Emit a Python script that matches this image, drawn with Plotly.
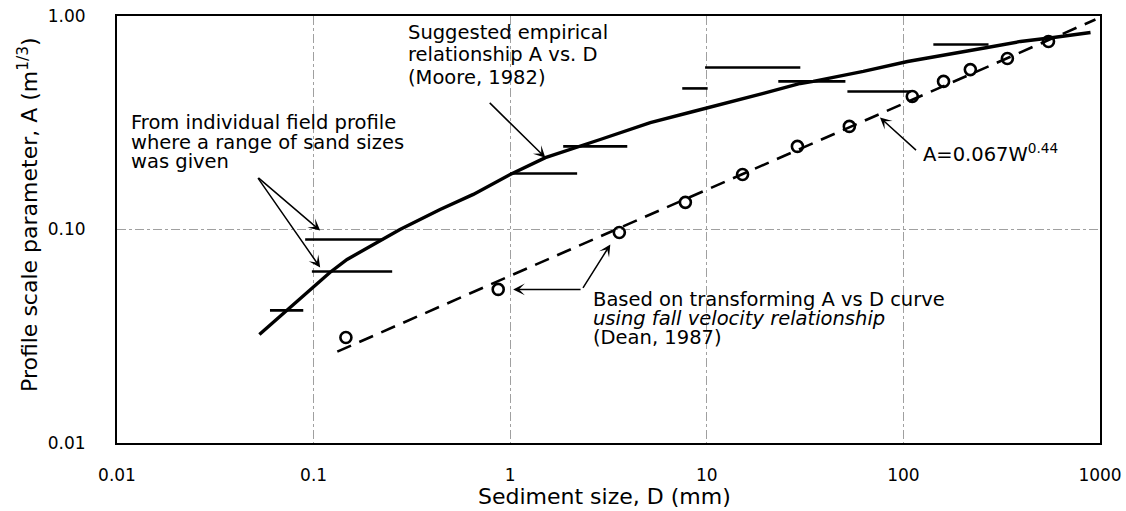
import numpy as np
import plotly.graph_objects as go

# ---- data ----
# Suggested empirical relationship A vs. D (Moore, 1982)
moore_d = [0.053, 0.073, 0.121, 0.148, 0.226, 0.275, 0.44, 0.649, 1.0, 1.51, 2.87,
           5.16, 8.53, 13.6, 19.4, 29.9, 34.8, 62.5, 105, 267, 394, 580, 895]
moore_a = [0.0322, 0.0418, 0.0629, 0.0724, 0.0898, 0.100, 0.124, 0.146, 0.181, 0.217, 0.264,
           0.317, 0.357, 0.398, 0.434, 0.483, 0.494, 0.55, 0.612, 0.712, 0.760, 0.793, 0.837]

# Points from transforming A vs D via fall velocity (Dean, 1987)
dean_d = [0.146, 0.869, 3.59, 7.78, 15.2, 28.9, 53.1, 111, 160, 219, 338, 547]
dean_a = [0.0312, 0.0524, 0.0968, 0.134, 0.181, 0.245, 0.304, 0.420, 0.494, 0.561, 0.632, 0.760]

# A = 0.067 W^0.44 (end points of the dashed line)
fit_d = [0.132, 948]
fit_a = [0.0268, 0.963]

# Individual field profiles with a range of sand sizes
range_dmin = [0.060, 0.098, 0.0906, 1.0, 1.86, 7.5, 9.8, 23.1, 51.9, 142]
range_dmax = [0.0886, 0.251, 0.226, 2.19, 3.94, 10.1, 29.9, 50.7, 109, 271]
range_a = [0.0418, 0.0636, 0.0898, 0.183, 0.245, 0.458, 0.574, 0.494, 0.443, 0.735]

x_tickvals = [0.01, 0.1, 1, 10, 100, 1000]
x_ticktext = ["0.01", "0.1", "1", "10", "100", "1000"]
y_tickvals = [0.01, 0.1, 1]
y_ticktext = ["0.01", "0.10", "1.00"]

FONT = "DejaVu Sans"

# ---- figure ----
fig = go.Figure()

bx, by = [], []
for d0, d1, a in zip(range_dmin, range_dmax, range_a):
    bx += [d0, d1, None]
    by += [a, a, None]
fig.add_trace(go.Scatter(x=bx, y=by, mode="lines",
                         line=dict(color="black", width=2.6), hoverinfo="skip"))

fig.add_trace(go.Scatter(x=fit_d, y=fit_a, mode="lines",
                         line=dict(color="black", width=2.6, dash="15px,9px")))

fig.add_trace(go.Scatter(x=moore_d, y=moore_a, mode="lines",
                         line=dict(color="black", width=3.4)))

fig.add_trace(go.Scatter(x=dean_d, y=dean_a, mode="markers",
                         marker=dict(symbol="circle-open", size=11, color="black",
                                     line=dict(width=2.6, color="black"))))

# ---- layout helpers ----
L, R, T, B = 117, 1100, 16, 443


def px(x):
    return (x - L) / (R - L)


def py(y):
    return (B - y) / (B - T)


annotations = []


def text_line(txt, x, y, size=19.5):
    annotations.append(dict(text=txt, x=px(x), y=py(y), xref="paper", yref="paper",
                            xanchor="left", yanchor="middle", showarrow=False,
                            borderpad=0,
                            font=dict(family=FONT, size=size, color="black")))


def arrow(tail, tip):
    annotations.append(dict(text="", x=np.log10(tip[0]), y=np.log10(tip[1]),
                            ax=np.log10(tail[0]), ay=np.log10(tail[1]),
                            xref="x", yref="y", axref="x", ayref="y",
                            showarrow=True, arrowhead=3, arrowsize=1.3,
                            arrowwidth=1.5, arrowcolor="black", standoff=0,
                            startstandoff=0))


text_line("From individual field profile", 130, 123)
text_line("where a range of sand sizes", 130, 142)
text_line("was given", 130, 161)
arrow((0.0515, 0.177), (0.108, 0.0989))
arrow((0.0515, 0.177), (0.108, 0.0664))

text_line("Suggested empirical", 407, 32)
text_line("relationship A vs. D", 407, 55)
text_line("(Moore, 1982)", 407, 77)
arrow((0.773, 0.398), (1.51, 0.217))

text_line("A=0.067W<sup>0.44</sup>", 922, 153)
arrow((118, 0.232), (76, 0.335))

text_line("Based on transforming A vs D curve", 592, 299)
text_line("<i>using fall velocity relationship</i>", 592, 318)
text_line("(Dean, 1987)", 592, 337)
arrow((2.32, 0.0524), (1.035, 0.0524))
arrow((2.32, 0.0524), (3.23, 0.0851))

# axis titles
annotations.append(dict(text="Sediment size, D (mm)", x=px(604), y=py(497),
                        xref="paper", yref="paper", xanchor="center", yanchor="middle",
                        showarrow=False, font=dict(family=FONT, size=22, color="black")))
annotations.append(dict(text="Profile scale parameter, A (m<sup>1/3</sup>)", x=px(28), y=py(215),
                        xref="paper", yref="paper", xanchor="center", yanchor="middle",
                        textangle=-90, showarrow=False,
                        font=dict(family=FONT, size=22, color="black")))

axis_common = dict(type="log", showgrid=True, gridcolor="#a0a0a0", gridwidth=1,
                   griddash="dashdot", showline=True, linecolor="black", linewidth=2,
                   mirror=True, ticks="", zeroline=False, automargin=False,
                   tickfont=dict(family=FONT, size=17, color="black"))

fig.update_layout(
    width=1126, height=511,
    margin=dict(l=L, r=1126 - R, t=T, b=511 - B, autoexpand=False),
    plot_bgcolor="white", paper_bgcolor="white",
    showlegend=False,
    xaxis=dict(range=[-2, 3], tickvals=x_tickvals, ticktext=x_ticktext,
               ticklabelstandoff=16, **axis_common),
    yaxis=dict(range=[-2, 0], tickvals=y_tickvals, ticktext=y_ticktext,
               ticklabelstandoff=26, **axis_common),
    annotations=annotations,
)

fig.write_html("out.html", config={"displayModeBar": False},
               post_script="document.body.style.margin='0';document.body.style.overflow='hidden';")
